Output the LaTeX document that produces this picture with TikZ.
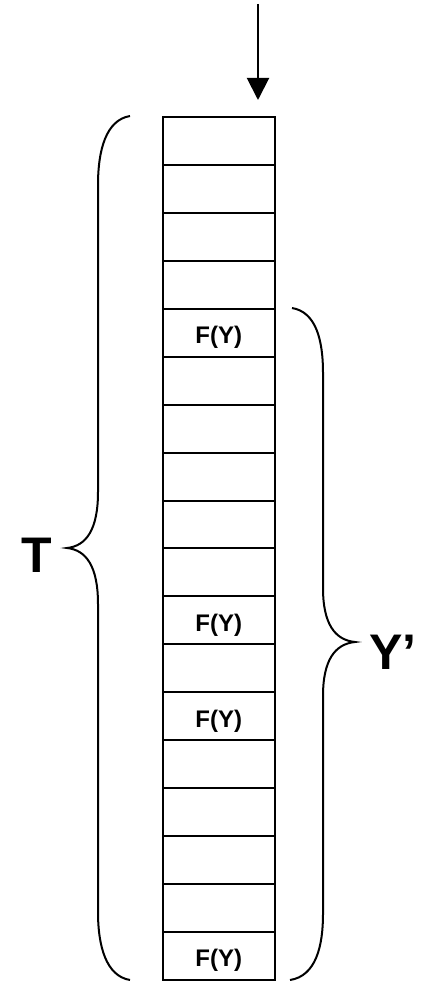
\documentclass[tikz,border=0pt]{standalone}
\usepackage{fontspec}
\setmainfont{Liberation Sans}
\usetikzlibrary{arrows.meta}
\begin{document}
\begin{tikzpicture}[x=1pt,y=-1pt,
  cell/.style={draw,line width=2pt,minimum width=112.5pt,minimum height=47.94pt,inner sep=0pt,anchor=north},
  cellfy/.style={font=\fontsize{24}{28}\selectfont\bfseries,inner sep=0pt,anchor=base},
  bigl/.style={font=\fontsize{50}{56}\selectfont\bfseries,inner sep=0pt},
  bracel/.style={line width=2pt},
  arr/.style={line width=2pt,-{Triangle[width=22pt,length=22pt]}}]
\useasboundingbox (0,0) rectangle (422,981);
% column of cells
\foreach \i in {1,...,18}{
  \node[cell] (r\i) at (218.75,{116+(\i-1)*47.94}) {};
}
\foreach \i in {5,11,13,18}{
  \node[cellfy] (f\i) at ([yshift=-11pt]r\i.center) {F(Y)};
}
% arrow into the top cell
\coordinate (astart) at (258,4);
\coordinate (aend) at (258,100);
\draw[arr] (astart) -- (aend);
% left brace T
\draw[bracel] (130,116) .. controls (106,120) and (98,150) .. (98,185)
  -- (98,492) .. controls (98,530) and (86,546) .. (67,548)
  .. controls (86,550) and (98,566) .. (98,604)
  -- (98,912) .. controls (98,946) and (106,976) .. (130,980);
\node[bigl] (T) at (36.5,555.5) {T};
% right brace Y'
\draw[bracel] (292,308) .. controls (316,312) and (323,340) .. (323,373)
  -- (323,588) .. controls (323,624) and (335,640) .. (355,642)
  .. controls (335,644) and (323,660) .. (323,696)
  -- (323,914) .. controls (323,946) and (316,976) .. (290,980);
\node[bigl,anchor=west] (Yp) at (369,652.5) {Y’};
\end{tikzpicture}
\end{document}
